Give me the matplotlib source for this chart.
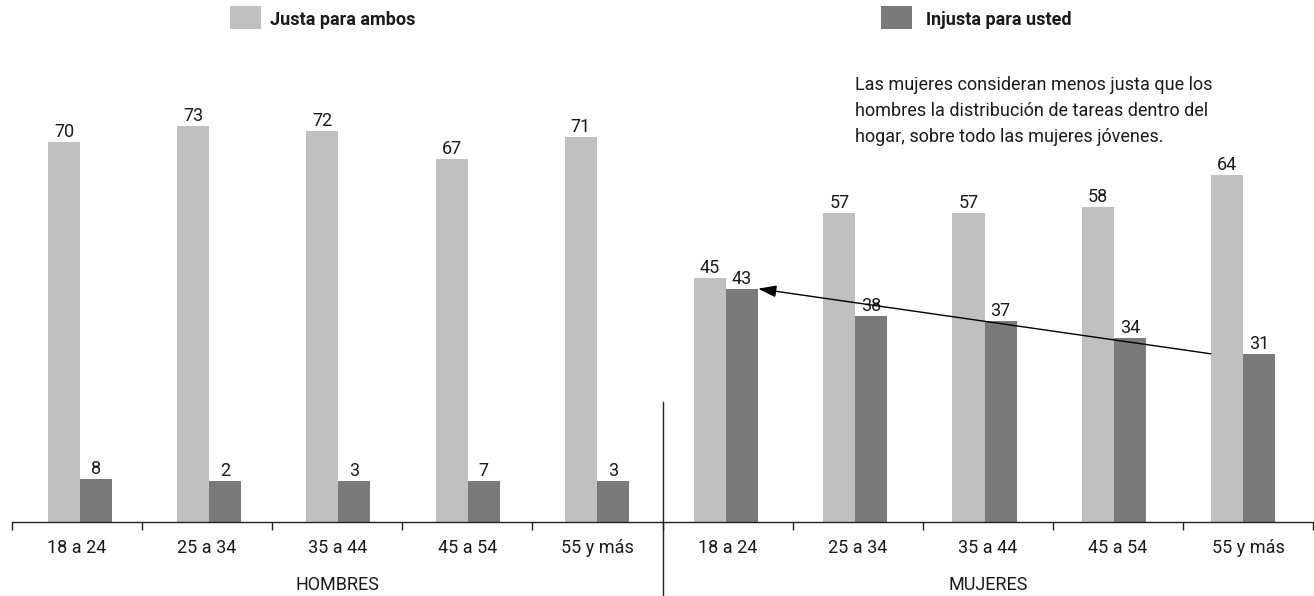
import numpy as np
import matplotlib
matplotlib.use("Agg")
import matplotlib.pyplot as plt
from matplotlib import transforms
from matplotlib.patches import Rectangle

plt.rcParams['font.family'] = ['Roboto', 'DejaVu Sans']

# ---- data ----
categories = ["18 a 24", "25 a 34", "35 a 44", "45 a 54", "55 y más",
              "18 a 24", "25 a 34", "35 a 44", "45 a 54", "55 y más"]
groups = ["HOMBRES", "MUJERES"]
justa_ambos = [70, 73, 72, 67, 71, 45, 57, 57, 58, 64]
injusta_usted = [8, 2, 3, 7, 3, 43, 38, 37, 34, 31]
series_names = ["Justa para ambos", "Injusta para usted"]
note_lines = ["Las mujeres consideran menos justa que los",
              "hombres la distribución de tareas dentro del",
              "hogar, sobre todo las mujeres jóvenes."]

# ---- style ----
C_LIGHT = "#c0c0c0"
C_DARK = "#7a7a7a"
TXT = "#1a1a1a"
MIN_VISIBLE = 7.5   # reference draws tiny bars with a minimum visible height
W = 0.248

W_PX, H_PX = 1314, 596
fig = plt.figure(figsize=(W_PX / 100, H_PX / 100), dpi=100)
ax = fig.add_axes([12 / W_PX, (H_PX - 522) / H_PX, 1301 / W_PX, 434 / H_PX])

x = np.arange(len(categories))
h1 = np.maximum(np.array(justa_ambos, float), MIN_VISIBLE)
h2 = np.maximum(np.array(injusta_usted, float), MIN_VISIBLE)

ax.bar(x - W / 2, h1, width=W, color=C_LIGHT, linewidth=0)
ax.bar(x + W / 2, h2, width=W, color=C_DARK, linewidth=0)

x0, x1 = -0.526, 9.542
ax.set_xlim(x0, x1)
ax.set_ylim(0, 80)

# value labels
for xi, v, h in zip(x, justa_ambos, h1):
    ax.annotate(str(v), (xi - W / 2, h), xytext=(0, 3.6), textcoords="offset points",
                ha="center", va="baseline", fontsize=13, color=TXT)
for xi, v, h in zip(x, injusta_usted, h2):
    ax.annotate(str(v), (xi + W / 2, h), xytext=(0, 3.6), textcoords="offset points",
                ha="center", va="baseline", fontsize=13, color=TXT)

# axis styling
for s in ["top", "right", "left"]:
    ax.spines[s].set_visible(False)
ax.spines["bottom"].set_linewidth(1.0)
ax.spines["bottom"].set_color("#222222")
ax.set_yticks([])
n = len(categories)
bounds = np.linspace(x0, x1, n + 1)
mids = (bounds[:-1] + bounds[1:]) / 2
ax.set_xticks(bounds)
ax.set_xticklabels([])
ax.tick_params(axis="x", direction="out", length=6, width=1.0, color="#222222")

bt = transforms.blended_transform_factory(ax.transData, fig.transFigure)
for m, lab in zip(mids, categories):
    ax.text(m, 1 - 553 / H_PX, lab, transform=bt, ha="center", va="baseline",
            fontsize=13, color=TXT)
half = n // 2
for gi, g in enumerate(groups):
    gx = (bounds[gi * half] + bounds[(gi + 1) * half]) / 2
    ax.text(gx, 1 - 590 / H_PX, g, transform=bt, ha="center", va="baseline",
            fontsize=13, color=TXT)

# separator line between groups
ax.plot([bounds[half], bounds[half]], [0, 1 - 402 / H_PX], transform=bt,
        color="#222222", lw=1.0, clip_on=False)

# legend
fig.patches.append(Rectangle((230 / W_PX, 1 - 29 / H_PX), 31 / W_PX, 23 / H_PX,
                             transform=fig.transFigure, color=C_LIGHT, lw=0))
fig.patches.append(Rectangle((881 / W_PX, 1 - 29 / H_PX), 31 / W_PX, 23 / H_PX,
                             transform=fig.transFigure, color=C_DARK, lw=0))
fig.text(270 / W_PX, 1 - 25 / H_PX, series_names[0], fontsize=13, fontweight="bold",
         va="baseline", ha="left", color=TXT)
fig.text(926 / W_PX, 1 - 25 / H_PX, series_names[1], fontsize=13, fontweight="bold",
         va="baseline", ha="left", color=TXT)

# annotation text
for i, line in enumerate(note_lines):
    fig.text(855 / W_PX, 1 - (90 + 26 * i) / H_PX, line, fontsize=13,
             va="baseline", ha="left", color=TXT)

# arrow from the last women's value to the first women's value
ax.annotate("", xy=(5 + W, injusta_usted[5]), xytext=(9 - W, injusta_usted[9]),
            arrowprops=dict(arrowstyle="-|>,head_length=0.55,head_width=0.18",
                            mutation_scale=20, lw=1.0, color="black",
                            shrinkA=0, shrinkB=0))

fig.savefig("out.png", dpi=100)
